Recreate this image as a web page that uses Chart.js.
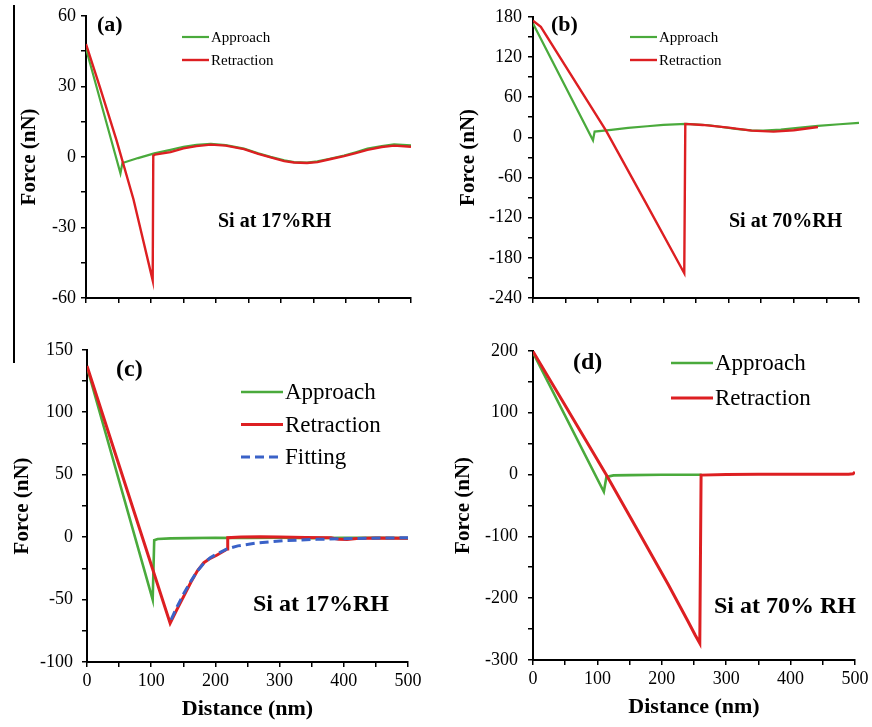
<!DOCTYPE html>
<html>
<head>
<meta charset="utf-8">
<title>Force-distance curves</title>
<script src="https://cdn.jsdelivr.net/npm/chart.js@4.4.1/dist/chart.umd.min.js"></script>
<style>
  body { margin: 0; background: #fff; }
  #page { position: relative; width: 872px; height: 727px; overflow: hidden; }
  canvas { position: absolute; }
  .rule { position: absolute; left: 13px; top: 5px; width: 2px; height: 358px; background: #000; }
</style>
</head>
<body>
<div id="page">
  <div class="rule"></div>
  <canvas id="panelA" width="436" height="330" style="left:0;top:0;width:436px;height:330px"></canvas>
  <canvas id="panelB" width="436" height="330" style="left:436px;top:0;width:436px;height:330px"></canvas>
  <canvas id="panelC" width="436" height="397" style="left:0;top:330px;width:436px;height:397px"></canvas>
  <canvas id="panelD" width="436" height="397" style="left:436px;top:330px;width:436px;height:397px"></canvas>
</div>
<script>
// ---- data (distance nm, force nN) ----
const seriesNames = ['Approach', 'Retraction', 'Fitting'];
const xTickLabels = [0, 100, 200, 300, 400, 500];

// (a) Si at 17%RH
const approachA = [[0,46],[53,-7],[56,-2.6],[80,-0.5],[105,1.5],[130,3],[150,4.3],[170,5.1],[192,5.5],[215,5],[243,3.5],[265,1.5],[284,0],[305,-1.5],[320,-2.2],[340,-2.4],[356,-1.9],[375,-0.8],[397,0.6],[415,2],[433,3.5],[455,4.6],[474,5.3],[500,4.9]];
const retractionA = [[0,48],[21,30],[47,7],[73,-18],[102.6,-52.5],[103.5,0.5],[106,1],[130,2],[150,3.6],[170,4.6],[192,5.2],[215,4.8],[243,3.3],[265,1.3],[284,-0.2],[305,-1.8],[320,-2.4],[340,-2.6],[356,-2.2],[375,-1],[397,0.3],[415,1.6],[433,3],[455,4.2],[474,4.8],[500,4.3]];
const yLabelsA = [-60, -30, 0, 30, 60];

// (b) Si at 70%RH
const approachB = [[0,170],[92,-4.5],[94.5,8.5],[120,11],[146,14],[175,16.5],[200,18.5],[235,20],[270,18],[311,12.5],[335,10.5],[353,10],[380,11.5],[410,14.5],[437,17],[470,19.5],[500,21.5]];
const retractionB = [[0,174],[12,165],[112,10],[172,-96],[232,-203],[233.6,20],[260,18.5],[300,14.5],[335,10],[369,8.5],[400,10.5],[437,15.5]];
const yLabelsB = [-240, -180, -120, -60, 0, 60, 120, 180];

// (c) Si at 17%RH, with fit
const approachC = [[0,136],[102.3,-50],[104.7,-2.5],[110,-1.5],[130,-1],[160,-0.8],[200,-0.5],[250,-0.7],[300,-0.5],[350,-0.8],[400,-0.5],[450,-0.6],[500,-0.8]];
const retractionC = [[0,137],[129.5,-69],[140,-58],[151,-47],[162,-36],[172,-27],[182,-20.5],[192,-17],[202,-14.5],[212,-11.5],[218.6,-9.5],[219.2,-0.5],[240,0],[270,0.3],[300,0],[340,-0.3],[380,-0.5],[392,-1.8],[405,-2],[420,-1.2],[450,-0.8],[500,-1]];
const fittingC = [[131,-66],[140,-56],[151,-45],[161,-36],[172,-27],[182,-21],[192,-16.5],[202,-13.5],[218,-9.5],[235,-7],[265,-4.7],[307,-2.8],[358,-1.8],[410,-1.1],[460,-0.7],[500,-0.5]];
const yLabelsC = [-100, -50, 0, 50, 100, 150];

// (d) Si at 70% RH
const approachD = [[0,197],[110,-28],[114,-4],[125,-1.5],[150,-1],[200,-0.5],[262,-0.5]];
const retractionD = [[0,199],[44,122],[114,-1],[163,-91],[210,-178],[240,-236],[252,-260],[259,-273],[261,-1],[300,0],[350,0.3],[400,0.5],[450,0.3],[490,0.5],[497,1],[500,4]];
const yLabelsD = [-300, -200, -100, 0, 100, 200];

// ---- styling ----
const SERIF = '"Liberation Serif", "Times New Roman", serif';
const GREEN = '#4aaa3c';
const RED = '#dd1f22';
const BLUE = '#3a62c8';

// panel tag, RH note and legend, drawn on the canvas
const panelText = {
  id: 'panelText',
  afterDraw(chart, args, o) {
    const ctx = chart.ctx;
    ctx.save();
    ctx.textBaseline = 'middle';
    ctx.textAlign = 'left';
    ctx.fillStyle = '#000';
    ctx.font = 'bold ' + o.tagSize + 'px ' + SERIF;
    ctx.fillText(o.tag, o.tagX, o.tagY);
    ctx.font = 'bold ' + o.noteSize + 'px ' + SERIF;
    ctx.fillText(o.note, o.noteX, o.noteY);
    ctx.font = o.legSize + 'px ' + SERIF;
    chart.data.datasets.forEach((ds, i) => {
      const y = o.legY + i * o.legRow;
      ctx.strokeStyle = ds.borderColor;
      ctx.lineWidth = ds.borderWidth;
      ctx.setLineDash(ds.borderDash || []);
      ctx.beginPath();
      ctx.moveTo(o.legX, y);
      ctx.lineTo(o.legX + o.legLen, y);
      ctx.stroke();
      ctx.setLineDash([]);
      ctx.fillText(ds.label, o.legX + o.legLen + 2, y + 1);
    });
    ctx.restore();
  }
};

function line(name, pts, color, width, order, dash) {
  return {
    label: name,
    data: pts.map(p => ({ x: p[0], y: p[1] })),
    borderColor: color,
    backgroundColor: color,
    borderWidth: width,
    borderDash: dash || [],
    pointRadius: 0,
    tension: 0,
    fill: false,
    order: order
  };
}

function panel(id, p) {
  const tickFont = { family: SERIF, size: 18 };
  return new Chart(document.getElementById(id), {
    type: 'line',
    data: { datasets: p.datasets },
    options: {
      responsive: false,
      animation: false,
      devicePixelRatio: 1,
      events: [],
      layout: { padding: p.pad },
      plugins: {
        legend: { display: false },
        tooltip: { enabled: false },
        panelText: p.text
      },
      scales: {
        x: {
          type: 'linear', min: 0, max: 500,
          ticks: {
            stepSize: 50, autoSkip: false, maxRotation: 0, color: '#000', font: tickFont, padding: 3,
            callback: v => p.xLabels.includes(v) ? String(v) : ''
          },
          grid: { drawOnChartArea: false, drawTicks: true, tickLength: 5, color: '#000', lineWidth: 1.5 },
          border: { color: '#000', width: 2 },
          title: {
            display: p.xTitle, text: 'Distance (nm)', color: '#000',
            font: { family: SERIF, size: 22, weight: 'bold' }, padding: { top: 0, bottom: p.xTitlePad }
          },
          afterFit: s => { s.height = p.xHeight; }
        },
        y: {
          type: 'linear', min: p.yMin, max: p.yMax,
          ticks: {
            stepSize: p.yStep, autoSkip: false, color: '#000', font: tickFont, padding: p.yTickPad,
            callback: v => p.yLabels.includes(v) ? String(v) : ''
          },
          grid: { drawOnChartArea: false, drawTicks: true, tickLength: 5, color: '#000', lineWidth: 1.5 },
          border: { color: '#000', width: 2 },
          title: {
            display: true, text: 'Force (nN)', color: '#000',
            font: { family: SERIF, size: 21, weight: 'bold' }, padding: { top: p.yTitlePad, bottom: 0 }
          },
          afterFit: s => { s.width = p.yWidth; }
        }
      }
    },
    plugins: [panelText]
  });
}

panel('panelA', {
  datasets: [
    line(seriesNames[0], approachA, GREEN, 2.2, 3),
    line(seriesNames[1], retractionA, RED, 2.4, 2)
  ],
  pad: { left: 0, right: 25, top: 15, bottom: 0 },
  xLabels: [], xTitle: false, xTitlePad: 0, xHeight: 32,
  yMin: -60, yMax: 60, yStep: 15, yLabels: yLabelsA, yTickPad: 5, yTitlePad: 17, yWidth: 86,
  text: { tag: '(a)', tagSize: 22, tagX: 97, tagY: 25, note: 'Si at 17%RH', noteSize: 20, noteX: 218, noteY: 222,
          legX: 182, legY: 37, legRow: 23, legLen: 27, legSize: 15 }
});

panel('panelB', {
  datasets: [
    line(seriesNames[0], approachB, GREEN, 2.2, 3),
    line(seriesNames[1], retractionB, RED, 2.4, 2)
  ],
  pad: { left: 0, right: 13, top: 15, bottom: 0 },
  xLabels: [], xTitle: false, xTitlePad: 0, xHeight: 32,
  yMin: -240, yMax: 180, yStep: 30, yLabels: yLabelsB, yTickPad: 6, yTitlePad: 20, yWidth: 97,
  text: { tag: '(b)', tagSize: 22, tagX: 115, tagY: 25, note: 'Si at 70%RH', noteSize: 20, noteX: 293, noteY: 222,
          legX: 194, legY: 37, legRow: 23, legLen: 27, legSize: 15 }
});

panel('panelC', {
  datasets: [
    line(seriesNames[0], approachC, GREEN, 2.6, 3),
    line(seriesNames[1], retractionC, RED, 3, 2),
    line(seriesNames[2], fittingC, BLUE, 3, 1, [9, 5])
  ],
  pad: { left: 0, right: 28, top: 19, bottom: 0 },
  xLabels: xTickLabels, xTitle: true, xTitlePad: 4, xHeight: 65,
  yMin: -100, yMax: 150, yStep: 25, yLabels: yLabelsC, yTickPad: 9, yTitlePad: 10, yWidth: 87,
  text: { tag: '(c)', tagSize: 24, tagX: 116, tagY: 40, note: 'Si at 17%RH', noteSize: 24, noteX: 253, noteY: 275,
          legX: 241, legY: 62, legRow: 32.5, legLen: 42, legSize: 23 }
});

panel('panelD', {
  datasets: [
    line(seriesNames[0], approachD, GREEN, 2.6, 3),
    line(seriesNames[1], retractionD, RED, 3, 2)
  ],
  pad: { left: 0, right: 17, top: 18, bottom: 0 },
  xLabels: xTickLabels, xTitle: true, xTitlePad: 6, xHeight: 67,
  yMin: -300, yMax: 200, yStep: 50, yLabels: yLabelsD, yTickPad: 10, yTitlePad: 15, yWidth: 97,
  text: { tag: '(d)', tagSize: 24, tagX: 137, tagY: 33, note: 'Si at 70% RH', noteSize: 24, noteX: 278, noteY: 277,
          legX: 235, legY: 33, legRow: 35, legLen: 42, legSize: 23 }
});
</script>
</body>
</html>
